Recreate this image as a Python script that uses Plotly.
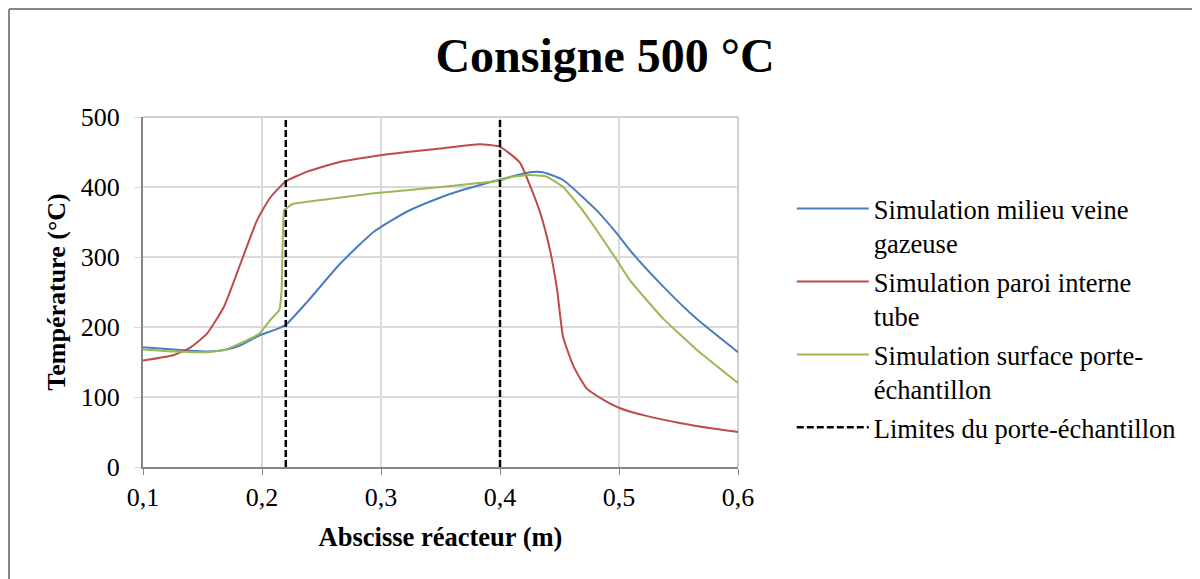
import plotly.graph_objects as go

# ---- data ----
blue_name = "Simulation milieu veine<br>gazeuse"
red_name = "Simulation paroi interne<br>tube"
green_name = "Simulation surface porte-<br>échantillon"
limits_name = "Limites du porte-échantillon"

blue_x = [0.10, 0.14, 0.155, 0.168, 0.182, 0.198, 0.214, 0.22, 0.238, 0.266, 0.294, 0.322, 0.35,
          0.369, 0.399, 0.425, 0.436, 0.453, 0.481, 0.498, 0.509, 0.537, 0.565, 0.60]
blue_y = [171, 166, 165, 167, 174, 188, 198, 203, 236, 291, 336, 365, 385,
          396, 410, 421, 421, 410, 367, 334, 310, 258, 212, 164]

red_x = [0.10, 0.126, 0.14, 0.154, 0.168, 0.182, 0.196, 0.207, 0.22, 0.238, 0.266, 0.294, 0.322,
         0.35, 0.383, 0.399, 0.408, 0.417, 0.425, 0.434, 0.442, 0.448, 0.453, 0.462, 0.473,
         0.487, 0.501, 0.523, 0.551, 0.579, 0.60]
red_y = [152, 160, 171, 191, 229, 291, 353, 385, 408, 422, 436, 444, 450,
         455, 461, 458, 448, 434, 403, 362, 310, 253, 186, 143, 112,
         96, 84, 73, 63, 55, 50]

green_x = [0.10, 0.126, 0.154, 0.168, 0.182, 0.198, 0.207, 0.2145, 0.2165, 0.2185, 0.221, 0.226,
           0.238, 0.294, 0.35, 0.399, 0.411, 0.425, 0.439, 0.453, 0.467, 0.481, 0.498, 0.509,
           0.537, 0.565, 0.60]
green_y = [168, 165, 164, 167, 177, 191, 210, 224, 253, 367, 370, 376,
           379, 391, 400, 409, 415, 417, 415, 400, 372, 339, 296, 267,
           212, 168, 120]

limits_x = [0.22, 0.40]
y_range = [0, 500]

x_ticks = [0.1, 0.2, 0.3, 0.4, 0.5, 0.6]
y_ticks = [0, 100, 200, 300, 400, 500]

title_text = "Consigne 500 °C"
x_title = "Abscisse réacteur (m)"
y_title = "Température (°C)"

# ---- figure ----
FONT = "Times New Roman, Liberation Serif, serif"
fig = go.Figure()
fig.add_trace(go.Scatter(x=blue_x, y=blue_y, mode="lines", name=blue_name, legendgroup="a",
                         line=dict(color="#4A7EBB", width=2, shape="spline", smoothing=0.5)))
fig.add_trace(go.Scatter(x=red_x, y=red_y, mode="lines", name=red_name, legendgroup="b",
                         line=dict(color="#BE4B48", width=2, shape="spline", smoothing=0.5)))
fig.add_trace(go.Scatter(x=green_x, y=green_y, mode="lines", name=green_name, legendgroup="c",
                         line=dict(color="#98B954", width=2, shape="spline", smoothing=0.3)))

lx, ly = [], []
for v in limits_x:
    lx += [v, v, None]
    ly += [y_range[0], y_range[1], None]
fig.add_trace(go.Scatter(x=lx, y=ly, mode="lines", name=limits_name, legendgroup="d",
                         line=dict(color="black", width=2.5, dash="7px,3px")))

fig.update_layout(
    width=1200, height=579,
    margin=dict(l=135, r=470, t=109, b=120),
    paper_bgcolor="white", plot_bgcolor="white",
    separators=", ",
    font=dict(family=FONT, size=26, color="black"),
    title=dict(text="<b>" + title_text + "</b>", x=597 / 1200, xref="container", xanchor="center",
               y=1 - 47 / 579, yref="container", yanchor="middle",
               font=dict(family=FONT, size=48, color="black")),
    legend=dict(x=1.0904, xanchor="left", y=0.806, yanchor="top",
                font=dict(family=FONT, size=26.5, color="black"),
                valign="top", itemwidth=72, tracegroupgap=1,
                bgcolor="rgba(0,0,0,0)"),
    showlegend=True,
)
fig.update_xaxes(range=[0.1, 0.6], tickvals=x_ticks, tickformat=".1f",
                 showgrid=True, gridcolor="#D9D9D9", gridwidth=1.5,
                 showline=True, linecolor="#868686", linewidth=2,
                 ticks="outside", ticklen=6, tickcolor="#868686",
                 zeroline=False,
                 tickfont=dict(family=FONT, size=26),
                 title=dict(text="<b>" + x_title + "</b>", standoff=16,
                            font=dict(family=FONT, size=26.5)))
fig.update_yaxes(range=y_range, tickvals=y_ticks,
                 showgrid=True, gridcolor="#D9D9D9", gridwidth=1.5,
                 showline=True, linecolor="#868686", linewidth=2,
                 ticks="outside", ticklen=7, tickcolor="#D9D9D9",
                 ticklabelstandoff=9,
                 zeroline=False,
                 tickfont=dict(family=FONT, size=26),
                 title=dict(text="<b>" + y_title + "</b>", standoff=8,
                            font=dict(family=FONT, size=26)))

# plot area border (top/right lighter)
fig.add_shape(type="line", xref="paper", yref="paper", x0=0, x1=1, y0=1, y1=1,
              line=dict(color="#BFBFBF", width=1.5), layer="below")
fig.add_shape(type="line", xref="paper", yref="paper", x0=1, x1=1, y0=0, y1=1,
              line=dict(color="#BFBFBF", width=1.5), layer="below")

# outer chart frame (left and top visible)
fx0 = (1 - 135) / 595
fy0 = (459 - 1) / 350
fig.add_shape(type="line", xref="paper", yref="paper", x0=fx0, x1=(1200 - 135) / 595,
              y0=fy0, y1=fy0, line=dict(color="#868686", width=2))
fig.add_shape(type="line", xref="paper", yref="paper", x0=fx0, x1=fx0,
              y0=fy0, y1=(459 - 579) / 350, line=dict(color="#868686", width=2))

fig.write_html("out.html")
